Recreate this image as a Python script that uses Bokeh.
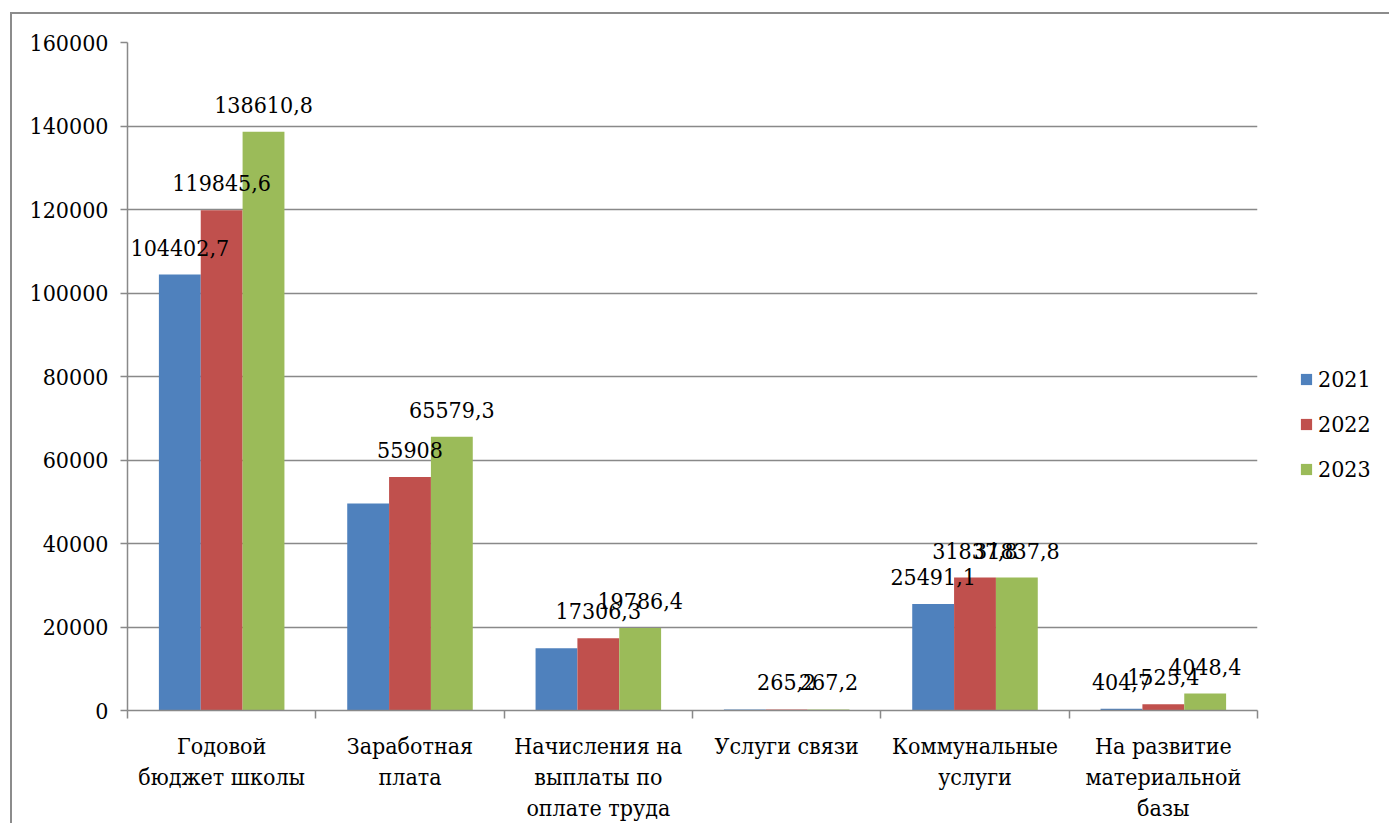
from bokeh.plotting import figure
from bokeh.models import ColumnDataSource, Range1d, FixedTicker, BasicTickFormatter, Legend, LegendItem
from bokeh.core.properties import value
from bokeh.transform import dodge
from bokeh.embed import file_html
from bokeh.resources import INLINE

categories = ["Годовой\nбюджет школы", "Заработная\nплата", "Начисления на\nвыплаты по\nоплате труда",
              "Услуги связи", "Коммунальные\nуслуги", "На развитие\nматериальной\nбазы"]
years = ["2021", "2022", "2023"]
v2021 = [104402.7, 49600, 14900, 230, 25491.1, 404.7]
v2022 = [119845.6, 55908, 17306.3, 265.2, 31837.8, 1525.4]
v2023 = [138610.8, 65579.3, 19786.4, 267.2, 31837.8, 4048.4]
show2021 = [True, False, False, False, True, True]
show2022 = [True] * 6
show2023 = [True] * 6
y_ticks = [0, 20000, 40000, 60000, 80000, 100000, 120000, 140000, 160000]
colors = ["#4F81BD", "#C0504D", "#9BBB59"]

FONT = "DejaVu Serif Condensed"
FS = "23px"
GRAY = "#898989"

def fmt(v):
    s = ("%.1f" % v)
    if s.endswith(".0"):
        s = s[:-2]
    return s.replace(".", ",")

centers = [i + 0.5 for i in range(len(categories))]
bounds = [i for i in range(len(categories) + 1)]

p = figure(frame_width=1130, frame_height=668, output_backend="svg", toolbar_location=None,
           x_range=Range1d(0, len(categories)), y_range=Range1d(y_ticks[0], y_ticks[-1]),
           min_border_left=115, min_border_top=28, min_border_right=10, min_border_bottom=100,
           styles={"margin-left": "10px", "margin-top": "12px",
                   "border-left": "2px solid #8c8c8c", "border-top": "2px solid #8c8c8c"})
p.outline_line_color = None

series = [v2021, v2022, v2023]
shows = [show2021, show2022, show2023]
bw = 0.2222
offsets = [-bw, 0.0, bw]
renderers = []
sources = []
for vals, show, col, off in zip(series, shows, colors, offsets):
    src = ColumnDataSource(dict(x=centers, top=vals,
                                label=[fmt(v) if s else "" for v, s in zip(vals, show)]))
    sources.append(src)
    r = p.vbar(x=dodge("x", off), top="top", bottom=0, width=bw, source=src,
               fill_color=col, line_color=None)
    renderers.append(r)

for src, off in zip(sources, offsets):
    p.text(x=dodge("x", off), y="top", text="label", source=src, text_align="center",
           text_baseline="alphabetic", y_offset=-27, text_font=value(FONT),
           text_font_size=FS, text_color="black")

p.xgrid.grid_line_color = None
p.ygrid.grid_line_color = GRAY
p.ygrid.grid_line_width = 1.5
p.ygrid.ticker = FixedTicker(ticks=y_ticks)

p.xaxis.ticker = FixedTicker(ticks=centers, minor_ticks=bounds)
p.xaxis.major_label_overrides = {c: lab for c, lab in zip(centers, categories)}
p.xaxis.major_tick_line_color = None
p.xaxis.major_tick_out = 0
p.xaxis.major_tick_in = 0
p.xaxis.minor_tick_out = 8
p.xaxis.minor_tick_in = 0
p.xaxis.minor_tick_line_color = GRAY
p.xaxis.minor_tick_line_width = 1.5
p.xaxis.axis_line_color = GRAY
p.xaxis.axis_line_width = 1.5
p.xaxis.major_label_standoff = 14
p.xaxis.major_label_text_font = FONT
p.xaxis.major_label_text_font_size = FS
p.xaxis.major_label_text_color = "black"

p.yaxis.ticker = FixedTicker(ticks=y_ticks)
p.yaxis.formatter = BasicTickFormatter(use_scientific=False)
p.yaxis.minor_tick_line_color = None
p.yaxis.major_tick_out = 7
p.yaxis.major_tick_in = 0
p.yaxis.major_tick_line_color = GRAY
p.yaxis.major_tick_line_width = 1.5
p.yaxis.axis_line_color = GRAY
p.yaxis.axis_line_width = 1.5
p.yaxis.major_label_standoff = 12
p.yaxis.major_label_text_font = FONT
p.yaxis.major_label_text_font_size = FS
p.yaxis.major_label_text_color = "black"

legend = Legend(items=[LegendItem(label=y, renderers=[r]) for y, r in zip(years, renderers)],
                location=(42, 228), orientation="vertical")
legend.border_line_color = None
legend.background_fill_alpha = 0
legend.padding = 0
legend.margin = 0
legend.glyph_width = 14
legend.glyph_height = 14
legend.label_standoff = 5
legend.label_height = 27
legend.spacing = 18
legend.label_text_font = FONT
legend.label_text_font_size = FS
legend.label_text_color = "black"
p.add_layout(legend, "right")

open("out.html", "w").write(file_html(p, INLINE))
